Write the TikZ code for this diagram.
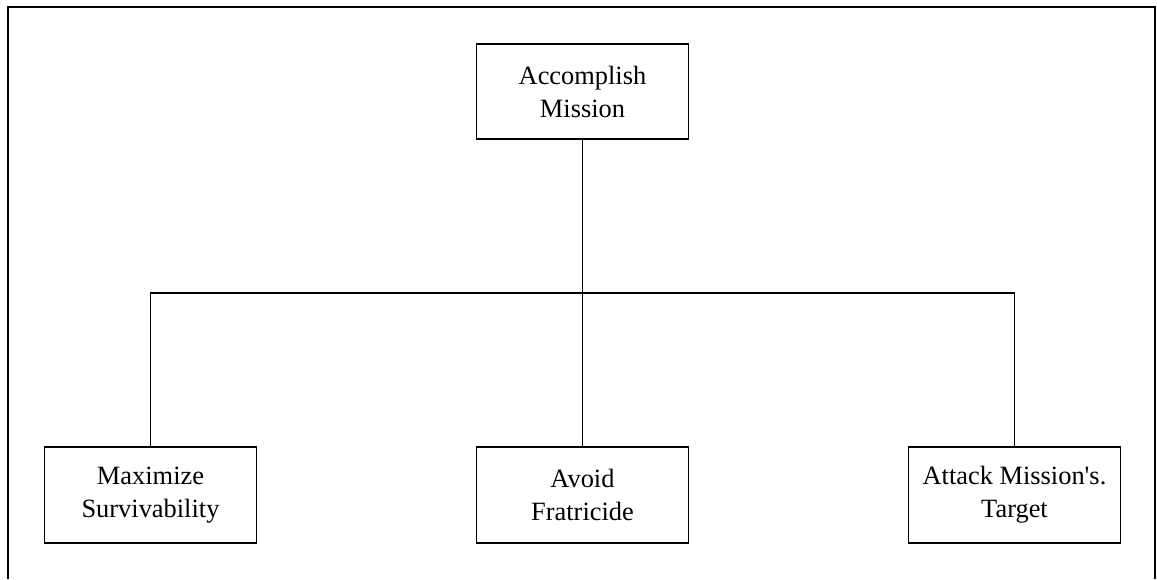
\documentclass[tikz,border=0pt]{standalone}
\usepackage{fontspec}
% plain family without TeX ligatures, so the apostrophe stays straight
\newfontfamily\labelfont{Liberation Serif}
\begin{document}
\begin{tikzpicture}[x=1pt,y=-1pt,
  goalbox/.style={draw=black, line width=1.4pt, fill=white,
    minimum width=212pt, minimum height=96pt, inner sep=0pt,
    align=center, font=\labelfont\fontsize{26.4}{33}\selectfont},
  link/.style={draw=black, line width=1.4pt},
  frameline/.style={draw=black, line width=2pt}]
  \useasboundingbox (0,0) rectangle (1157,579);
  % open frame around the tree
  \draw[frameline] (8,579) -- (8,7) -- (1155,7) -- (1155,579);

  % goal boxes
  \node[goalbox, minimum height=95pt] (top) at (582.5,91.5) {Accomplish\\Mission};
  \node[goalbox] (left)  at (150.5,495) {Maximize\\Survivability};
  \node[goalbox] (mid)   at (582.5,495) {Avoid\\Fratricide};
  \node[goalbox] (right) at (1014.5,495) {Attack Mission's.\\Target};

  % branching connectors
  \coordinate (bus) at (582.5,293);
  \draw[link] (top.south) -- (bus);
  \draw[link] (left.north) -- (left.north |- bus) -- (right.north |- bus) -- (right.north);
  \draw[link] (bus) -- (mid.north);
\end{tikzpicture}
\end{document}
